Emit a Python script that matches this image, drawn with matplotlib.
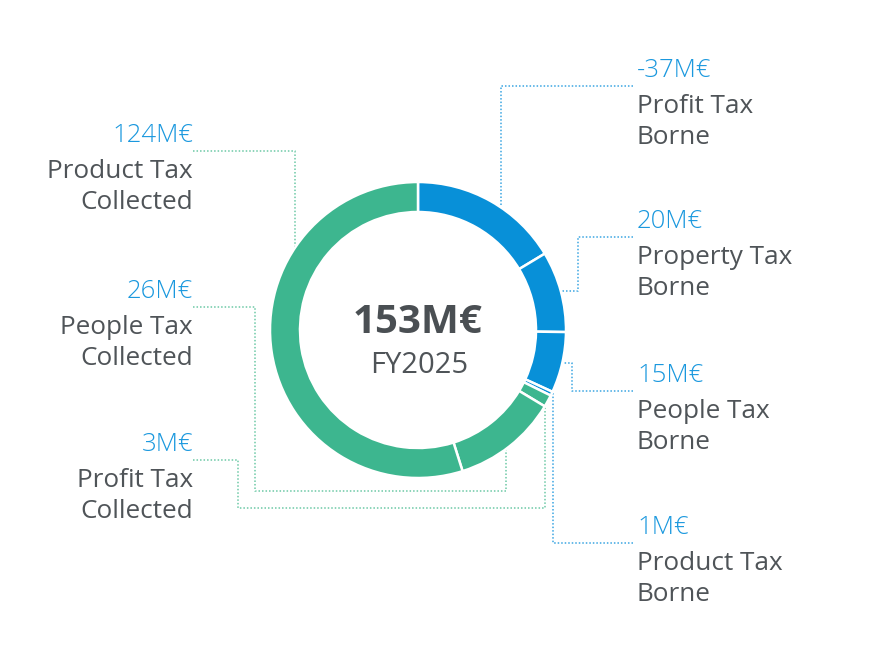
import numpy as np
import matplotlib.pyplot as plt

# tax contributions, FY2025 (M€)
labels = ["Profit Tax\nBorne", "Property Tax\nBorne", "People Tax\nBorne", "Product Tax\nBorne",
          "Profit Tax\nCollected", "People Tax\nCollected", "Product Tax\nCollected"]
values = [-37, 20, 15, 1, 3, 26, 124]
kinds = ["Borne", "Borne", "Borne", "Borne", "Collected", "Collected", "Collected"]
total = 153
year = "FY2025"

# layout (pixel units, y measured from top)
W, H = 870, 652
cx, cy, r, w = 418, H - 330, 148, 30
side = ["right", "right", "right", "right", "left", "left", "left"]
label_top = [77, 228, 382, 534, 451, 298, 142]
elbow_x = [[501], [578], [572], [553], [238, 545], [255, 506], [295]]
bottom_y = [None, None, None, None, 508, 491, None]

fill = {"Borne": "#0890d8", "Collected": "#3db68f"}
lead = {"Borne": "#3aa5e2", "Collected": "#6cc9a6"}
txt_grey = "#4f5458"
val_blue = "#1a98de"
font = ["Open Sans", "DejaVu Sans"]

fig = plt.figure(figsize=(W / 100, H / 100), dpi=100)
ax = fig.add_axes([0, 0, 1, 1])

wedges, _ = ax.pie(np.abs(values), colors=[fill[k] for k in kinds], startangle=90,
                   counterclock=False, center=(cx, cy), radius=r,
                   wedgeprops=dict(width=w, edgecolor="white", linewidth=1.8))

ax.text(cx, H - 333, f"{total}M€", ha="center", va="baseline", fontsize=29,
        fontweight="bold", color="#4a4f53", family=font)
ax.text(cx + 1, H - 373, year, ha="center", va="baseline", fontsize=21,
        color="#4f5458", family=font)

for i, (lab, v, k) in enumerate(zip(labels, values, kinds)):
    ly = H - label_top[i]
    if side[i] == "right":
        tx, ha, x0 = 637, "left", 633
    else:
        tx, ha, x0 = 193, "right", 193
    ax.text(tx, ly, f"{v}M€", ha=ha, va="baseline", fontsize=18.5, color=val_blue,
            family=font, fontweight="light")
    for j, line in enumerate(lab.split("\n")):
        ax.text(tx, ly - 36 - 31 * j, line, ha=ha, va="baseline", fontsize=18.8,
                color=txt_grey, family=font)

    # leader line
    yl = ly - 9
    xs, ys = [x0], [yl]
    ex = elbow_x[i]
    xs.append(ex[0]); ys.append(yl)
    if bottom_y[i] is not None:
        yb = H - bottom_y[i]
        xs += [ex[0], ex[1]]; ys += [yb, yb]
    xe, ye = xs[-1], ys[-1]
    dx = xe - cx
    if abs(dx) < r:
        dy = np.sqrt(r ** 2 - dx ** 2)
        xs.append(xe); ys.append(cy + dy if ye > cy else cy - dy)
    else:
        wd = wedges[i]
        mid = np.radians((wd.theta1 + wd.theta2) / 2)
        mx, my = cx + r * np.cos(mid), cy + r * np.sin(mid)
        xs += [xe, mx]; ys += [my, my]
    ax.plot(xs, ys, color=lead[k], lw=1.1, ls=(0, (1, 1.3)), zorder=0)

ax.set_xlim(0, W)
ax.set_ylim(0, H)
ax.set_aspect("equal")
ax.axis("off")

fig.savefig("out.png", dpi=100)
